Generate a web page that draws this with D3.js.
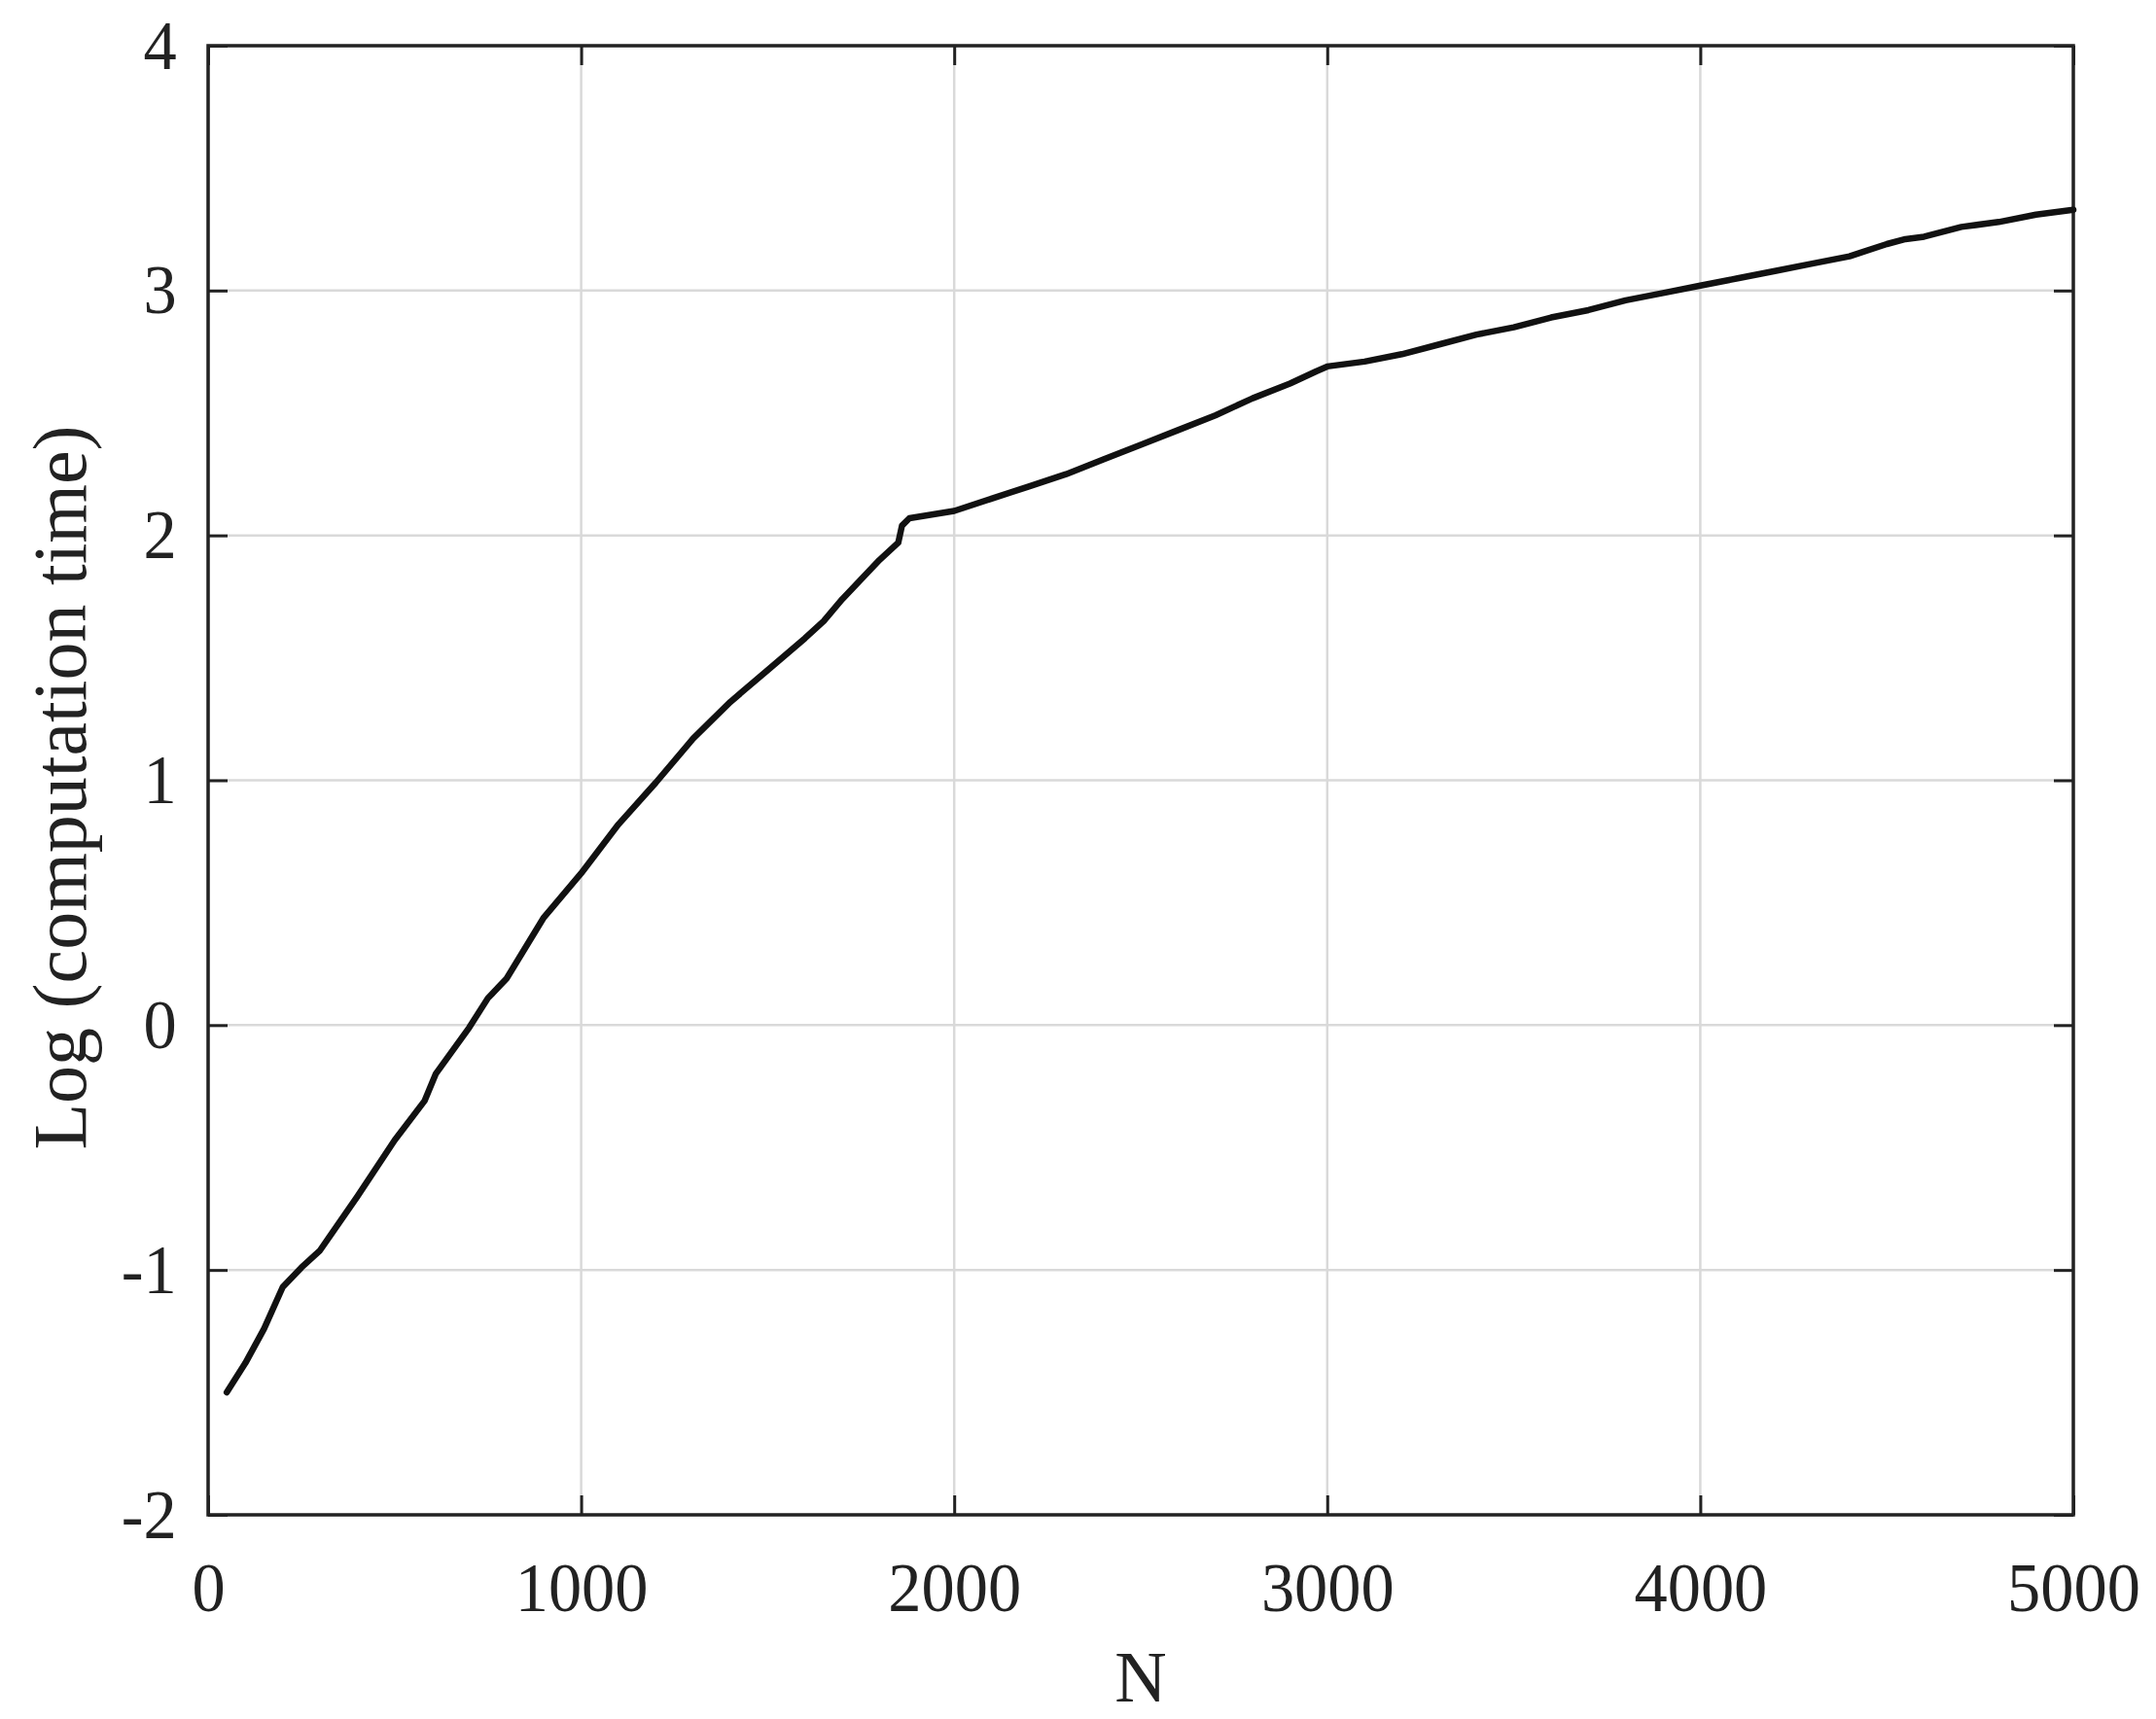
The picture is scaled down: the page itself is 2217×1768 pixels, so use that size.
<!DOCTYPE html>
<html>
<head>
<meta charset="utf-8">
<script src="https://cdn.jsdelivr.net/npm/d3@7"></script>
<style>
  html, body { margin: 0; padding: 0; background: #fff; }
  svg text { font-family: "Liberation Serif", "Times New Roman", serif; fill: #222; }
</style>
</head>
<body>
<svg id="chart" width="2217" height="1768"></svg>
<script>
const nValues = [50, 100, 150, 200, 250, 300, 400, 500, 580, 610, 700, 750, 800, 900, 1000,
  1100, 1200, 1300, 1400, 1500, 1600, 1650, 1700, 1800, 1850, 1860, 1880, 2000, 2100,
  2200, 2300, 2400, 2500, 2600, 2700, 2800, 2900, 2970, 3000, 3100, 3200, 3300, 3400,
  3500, 3600, 3700, 3800, 3900, 4000, 4100, 4200, 4300, 4400, 4500, 4550, 4600, 4700,
  4800, 4900, 5000];
const logTime = [-1.50, -1.38, -1.24, -1.07, -0.99, -0.92, -0.70, -0.47, -0.31, -0.20, -0.01, 0.11, 0.19, 0.44, 0.62,
  0.82, 0.99, 1.17, 1.32, 1.45, 1.58, 1.65, 1.74, 1.90, 1.97, 2.04, 2.07, 2.10, 2.15,
  2.20, 2.25, 2.31, 2.37, 2.43, 2.49, 2.56, 2.62, 2.67, 2.69, 2.71, 2.74, 2.78, 2.82,
  2.85, 2.89, 2.92, 2.96, 2.99, 3.02, 3.05, 3.08, 3.11, 3.14, 3.19, 3.21, 3.22, 3.26,
  3.28, 3.31, 3.33];
const xTicks = [0, 1000, 2000, 3000, 4000, 5000];
const yTicks = [-2, -1, 0, 1, 2, 3, 4];
const xLabel = "N";
const yLabel = "Log (computation time)";

const L = 214, R = 2132, T = 47, B = 1558;
const svg = d3.select("#chart");
const x = d3.scaleLinear().domain([0, 5000]).range([L, R]);
const y = d3.scaleLinear().domain([-2, 4]).range([B, T]);

// grid
const grid = svg.append("g");
grid.selectAll("line.gx").data(xTicks).join("line")
  .attr("x1", d => x(d)).attr("x2", d => x(d)).attr("y1", T).attr("y2", B)
  .attr("stroke", "#d9d9d9").attr("stroke-width", 2.5);
grid.selectAll("line.gy").data(yTicks).join("line")
  .attr("y1", d => y(d)).attr("y2", d => y(d)).attr("x1", L).attr("x2", R)
  .attr("stroke", "#d9d9d9").attr("stroke-width", 2.5);

// axes with inner ticks on all sides
const tl = 20;
const fmt = d => String(d).replace("\u2212", "-");
const axB = svg.append("g").attr("transform", `translate(0,${B})`)
  .call(d3.axisBottom(x).tickValues(xTicks).tickSize(-tl).tickPadding(48).tickFormat(fmt));
const axT = svg.append("g").attr("transform", `translate(0,${T})`)
  .call(d3.axisTop(x).tickValues(xTicks).tickSize(-tl).tickFormat(""));
const axLf = svg.append("g").attr("transform", `translate(${L},0)`)
  .call(d3.axisLeft(y).tickValues(yTicks).tickSize(-tl).tickPadding(34).tickFormat(d => d < 0 ? "-" + Math.abs(d) : String(d)));
const axRt = svg.append("g").attr("transform", `translate(${R},0)`)
  .call(d3.axisRight(y).tickValues(yTicks).tickSize(-tl).tickFormat(""));
[axB, axT, axLf, axRt].forEach(a => {
  a.select(".domain").remove();
  a.selectAll(".tick line").attr("stroke", "#222").attr("stroke-width", 3);
  a.selectAll(".tick text").attr("font-size", 72).attr("fill", "#222")
    .style("font-family", '"Liberation Serif", serif')
    .attr("transform", "scale(0.95,1)");
});
axB.selectAll(".tick text").attr("dy", "0.71em");

// frame
svg.append("rect").attr("x", L).attr("y", T).attr("width", R - L).attr("height", B - T)
  .attr("fill", "none").attr("stroke", "#222").attr("stroke-width", 3.5);

// curve
const line = d3.line().x((d, i) => x(nValues[i])).y(d => y(d));
svg.append("path").datum(logTime).attr("d", line)
  .attr("fill", "none").attr("stroke", "#111").attr("stroke-width", 6.5)
  .attr("stroke-linejoin", "round").attr("stroke-linecap", "round");

// labels
svg.append("text").attr("x", (L + R) / 2).attr("y", 1750).attr("text-anchor", "middle")
  .attr("font-size", 74).text(xLabel);
svg.append("text").attr("transform", `translate(88,${810}) rotate(-90)`)
  .attr("text-anchor", "middle").attr("font-size", 78).text(yLabel);
</script>
</body>
</html>
